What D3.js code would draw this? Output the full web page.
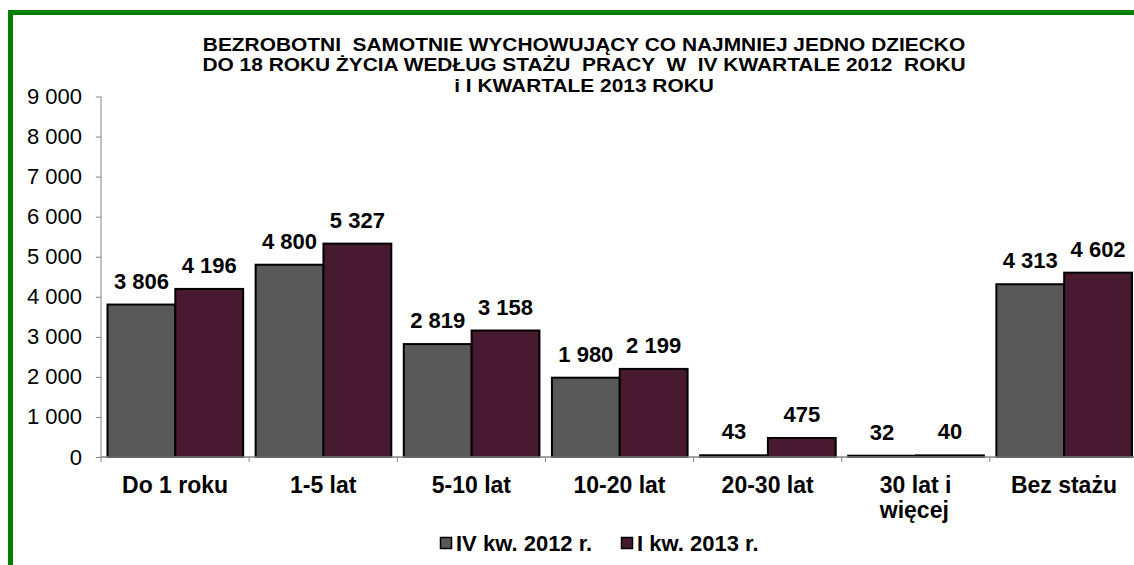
<!DOCTYPE html>
<html>
<head>
<meta charset="utf-8">
<script src="https://cdn.jsdelivr.net/npm/d3@7"></script>
<style>
  body { margin: 0; background: #fff; }
  svg { display: block; font-family: "Liberation Sans", Arial, sans-serif; }
</style>
</head>
<body>
<svg id="chart" width="1134" height="565"></svg>
<script>
var categories = ["Do 1 roku", "1-5 lat", "5-10 lat", "10-20 lat", "20-30 lat", "30 lat i|więcej", "Bez stażu"];
var seriesNames = ["IV kw. 2012 r.", "I kw. 2013 r."];
var q4_2012 = [3806, 4800, 2819, 1980, 43, 32, 4313];
var q1_2013 = [4196, 5327, 3158, 2199, 475, 40, 4602];
var yTicks = [0, 1000, 2000, 3000, 4000, 5000, 6000, 7000, 8000, 9000];
var titleLines = [
  "BEZROBOTNI  SAMOTNIE WYCHOWUJĄCY CO NAJMNIEJ JEDNO DZIECKO",
  "DO 18 ROKU ŻYCIA WEDŁUG STAŻU  PRACY  W  IV KWARTALE 2012  ROKU",
  "i I KWARTALE 2013 ROKU"
];
var colors = ["#595959", "#481a2f"];

var svg = d3.select("#chart");
var values = [q4_2012, q1_2013];

var pl = d3.formatLocale({ decimal: ",", thousands: "\u00a0", grouping: [3], currency: ["", " zł"] });
var fmt = pl.format(",d");

// green frame
svg.append("rect")
  .attr("x", 10.5).attr("y", 12.5)
  .attr("width", 1200).attr("height", 700)
  .attr("fill", "none").attr("stroke", "#008000").attr("stroke-width", 5);

// title (slightly stretched horizontally like the original)
svg.append("g").attr("transform", "translate(584,0) scale(1.1,1)")
  .append("text")
  .attr("text-anchor", "middle")
  .attr("font-weight", "bold").attr("font-size", 19)
  .style("white-space", "pre")
  .selectAll("tspan").data(titleLines).enter().append("tspan")
  .attr("x", 0).attr("y", function(d, i) { return 51 + i * 20.5; })
  .text(function(d) { return d; });

var x = d3.scaleBand().domain(categories).range([101, 1138]);
var x1 = d3.scaleBand().domain([0, 1]).range([6.5, x.bandwidth() - 6]);
var y = d3.scaleLinear().domain([0, 9000]).range([457, 96.5]);

// y axis
var yAxis = svg.append("g")
  .attr("transform", "translate(101,0)")
  .call(d3.axisLeft(y).tickValues(yTicks).tickSize(5).tickPadding(14).tickFormat(fmt));
yAxis.selectAll("text").attr("font-size", 22).attr("fill", "#000").attr("font-family", "'Liberation Sans', Arial, sans-serif");
yAxis.selectAll("line").attr("stroke", "#868686");
yAxis.select(".domain").attr("stroke", "#868686").attr("d", "M0,96.5V462");

// bars
var groups = svg.selectAll(".grp").data(categories).enter().append("g")
  .attr("class", "grp")
  .attr("transform", function(d) { return "translate(" + x(d) + ",0)"; });

groups.selectAll("rect").data(function(d, i) { return [0, 1].map(function(s) { return { s: s, v: values[s][i] }; }); })
  .enter().append("rect")
  .attr("x", function(d) { return x1(d.s); })
  .attr("y", function(d) { return y(d.v); })
  .attr("width", x1.bandwidth())
  .attr("height", function(d) { return y(0) - y(d.v); })
  .attr("fill", function(d) { return colors[d.s]; })
  .attr("stroke", "#000").attr("stroke-width", 2);

groups.selectAll(".lbl").data(function(d, i) { return [0, 1].map(function(s) { return { s: s, v: values[s][i] }; }); })
  .enter().append("text")
  .attr("class", "lbl")
  .attr("x", function(d) { return x1(d.s) + x1.bandwidth() / 2; })
  .attr("y", function(d) { return y(d.v) - 16; })
  .attr("text-anchor", "middle")
  .attr("font-weight", "bold").attr("font-size", 22)
  .text(function(d) { return fmt(d.v); });

// x axis
var xAxis = svg.append("g").attr("transform", "translate(0,457)");
xAxis.append("line").attr("x1", 101).attr("x2", 1138).attr("stroke", "#868686").attr("stroke-width", 1.5);
xAxis.selectAll(".tk").data(categories).enter().append("line")
  .attr("x1", function(d) { return x(d) + x.bandwidth(); })
  .attr("x2", function(d) { return x(d) + x.bandwidth(); })
  .attr("y1", 0).attr("y2", 5)
  .attr("stroke", "#868686");

svg.selectAll(".cat").data(categories).enter().append("text")
  .attr("class", "cat")
  .attr("font-weight", "bold").attr("font-size", 23)
  .each(function(d) {
    var parts = d.split("|");
    var t = d3.select(this);
    parts.forEach(function(p, i) {
      t.append("tspan")
        .attr("x", x(d) + x.bandwidth() / 2 - (parts.length > 1 ? 36 : 0))
        .attr("y", 493 + i * 25)
        .attr("text-anchor", parts.length > 1 ? "start" : "middle")
        .text(p);
    });
  });

// legend
var legendX = [440, 621];
var leg = svg.selectAll(".leg").data(seriesNames).enter().append("g")
  .attr("class", "leg")
  .attr("transform", function(d, i) { return "translate(" + legendX[i] + ",537)"; });
leg.append("rect").attr("width", 11).attr("height", 11).attr("x", 0.5).attr("y", 0.5)
  .attr("fill", function(d, i) { return colors[i]; })
  .attr("stroke", "#000").attr("stroke-width", 1.5);
leg.append("text").attr("x", 16).attr("y", 14)
  .attr("font-weight", "bold").attr("font-size", 22)
  .text(function(d) { return d; });
</script>
</body>
</html>
